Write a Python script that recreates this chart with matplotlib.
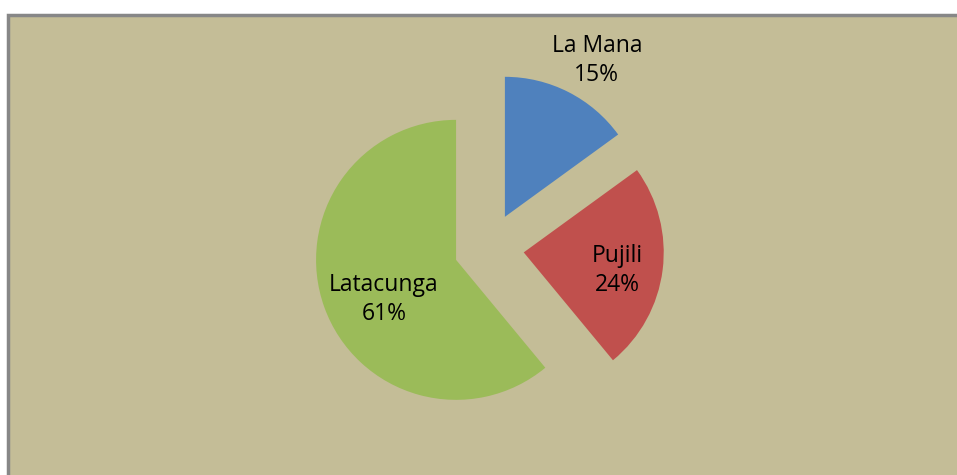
import matplotlib.pyplot as plt
from matplotlib.patches import Rectangle

labels = ["La Mana", "Pujili", "Latacunga"]
values = [15, 24, 61]
colors = ["#4F81BD", "#C0504D", "#9BBB59"]
label_pos = [(0.77, 1.34), (0.92, -0.16), (-0.75, -0.37)]

W, H = 957, 475
fig = plt.figure(figsize=(W / 100, H / 100), dpi=100)
fig.patch.set_facecolor("white")

# chart area with gray frame (runs off right and bottom edges)
bg = fig.add_axes([0, 0, 1, 1], zorder=0)
bg.axis("off")
bg.set_xlim(0, W)
bg.set_ylim(H, 0)
bg.add_patch(Rectangle((8, 15), W + 20, H, facecolor="#C4BD97",
                       edgecolor="#878787", linewidth=2.5))

R = 140  # pie radius in px
cx, cy = 489, H - 248
half = 1.6 * R
ax = fig.add_axes([(cx - half) / W, (cy - half) / H, 2 * half / W, 2 * half / H],
                  zorder=1)
ax.pie(values, colors=colors, startangle=90, counterclock=False,
       explode=[0.25] * 3, wedgeprops=dict(linewidth=0))
ax.set_xlim(-1.6, 1.6)
ax.set_ylim(-1.6, 1.6)
ax.axis("off")

total = sum(values)
for lab, v, (x, y) in zip(labels, values, label_pos):
    ax.text(x, y, f"{lab}\n{round(100 * v / total)}%", ha="center", va="center",
            fontsize=16.5, family="Open Sans", linespacing=1.3, color="black")

fig.savefig("out.png", dpi=100)
